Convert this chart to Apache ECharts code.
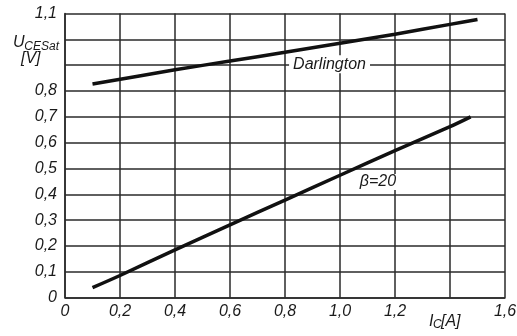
<!DOCTYPE html>
<html>
<head>
<meta charset="utf-8">
<script src="https://cdn.jsdelivr.net/npm/echarts@6/dist/echarts.min.js"></script>
<style>html,body{margin:0;padding:0;background:#fff}#c{width:517px;height:336px}</style>
</head>
<body>
<div id="c"></div>
<script>
var xTicks = [0, 0.2, 0.4, 0.6, 0.8, 1.0, 1.2, 1.4, 1.6];
var yTicks = [0, 0.1, 0.2, 0.3, 0.4, 0.5, 0.6, 0.7, 0.8, 0.9, 1.0, 1.1];
var darlingtonIc = [0.1, 0.4, 0.6, 0.8, 1.0, 1.2, 1.4, 1.5];
var darlingtonU  = [0.827, 0.882, 0.916, 0.95, 0.985, 1.02, 1.058, 1.077];
var beta20Ic = [0.1, 0.2, 0.4, 0.6, 0.8, 1.0, 1.2, 1.4, 1.475];
var beta20U  = [0.039, 0.086, 0.185, 0.282, 0.378, 0.474, 0.569, 0.662, 0.70];
var hiddenX = [1.4];
var hiddenY = [0.9, 1.0];

function fmt(v) {
  if (Math.abs(v) < 1e-9) return '0';
  return v.toFixed(1).replace('.', ',');
}
function isIn(v, arr) { return arr.some(function (a) { return Math.abs(a - v) < 1e-6; }); }
function zip(a, b) { return a.map(function (x, i) { return [x, b[i]]; }); }

var FONT = 'Liberation Sans, Arial, sans-serif';
var TXT = '#1a1a1a';
var gridLine = { show: true, lineStyle: { color: '#2a2a2a', width: 1.5 } };
var chart = echarts.init(document.getElementById('c'));
chart.setOption({
  animation: false,
  backgroundColor: '#fff',
  grid: { left: 65, right: 12, top: 13.5, bottom: 38.3, containLabel: false, outerBoundsMode: 'none' },
  xAxis: {
    type: 'value', min: xTicks[0], max: xTicks[xTicks.length - 1], interval: 0.2,
    axisLine: { show: true, lineStyle: { color: '#2a2a2a', width: 1.5 } },
    axisTick: { show: false },
    splitLine: gridLine,
    axisLabel: {
      margin: 6, fontSize: 16, fontStyle: 'italic', color: TXT, fontFamily: FONT,
      formatter: function (v) { return isIn(v, hiddenX) ? '' : fmt(v); }
    }
  },
  yAxis: {
    type: 'value', min: yTicks[0], max: yTicks[yTicks.length - 1], interval: 0.1,
    axisLine: { show: true, lineStyle: { color: '#2a2a2a', width: 1.5 } },
    axisTick: { show: false },
    splitLine: gridLine,
    axisLabel: {
      margin: 8, fontSize: 16, fontStyle: 'italic', color: TXT, fontFamily: FONT,
      formatter: function (v) { return isIn(v, hiddenY) ? '' : fmt(v); }
    }
  },
  series: [
    {
      name: 'Darlington', type: 'line', data: zip(darlingtonIc, darlingtonU),
      showSymbol: false, symbol: 'none', smooth: 0.3,
      lineStyle: { color: '#111', width: 3.5 },
      markPoint: {
        symbol: 'rect', symbolSize: 0,
        data: [{ coord: [0.962, 0.904], value: 'Darlington' }],
        label: {
          show: true, position: 'inside', formatter: 'Darlington', color: TXT,
          fontSize: 16, fontStyle: 'italic', fontFamily: FONT,
          backgroundColor: '#fff', padding: [1, 4, 1, 4]
        }
      }
    },
    {
      name: 'beta20', type: 'line', data: zip(beta20Ic, beta20U),
      showSymbol: false, symbol: 'none', smooth: 0.3,
      lineStyle: { color: '#111', width: 3.5 },
      markPoint: {
        symbol: 'rect', symbolSize: 0,
        data: [{ coord: [1.138, 0.448], value: 'b' }],
        label: {
          show: true, position: 'inside', formatter: 'β=20', color: TXT,
          fontSize: 16, fontStyle: 'italic', fontFamily: FONT,
          backgroundColor: '#fff', padding: [0, 1, 0, 1]
        }
      }
    }
  ],
  graphic: [
    { type: 'text', x: 13, y: 43, style: { text: 'U', fontSize: 16, fontStyle: 'italic', fontFamily: FONT, fill: TXT, textAlign: 'left', textVerticalAlign: 'middle' } },
    { type: 'text', x: 59, y: 47, style: { text: 'CESat', fontSize: 12, fontStyle: 'italic', fontFamily: FONT, fill: TXT, textAlign: 'right', textVerticalAlign: 'middle' } },
    { type: 'text', x: 21, y: 59, style: { text: '[V]', fontSize: 16, fontStyle: 'italic', fontFamily: FONT, fill: TXT, textAlign: 'left', textVerticalAlign: 'middle' } },
    { type: 'text', x: 429, y: 322, style: { text: 'I', fontSize: 16, fontStyle: 'italic', fontFamily: FONT, fill: TXT, textAlign: 'left', textVerticalAlign: 'middle' } },
    { type: 'text', x: 433, y: 325, style: { text: 'C', fontSize: 12, fontStyle: 'italic', fontFamily: FONT, fill: TXT, textAlign: 'left', textVerticalAlign: 'middle' } },
    { type: 'text', x: 441, y: 322, style: { text: '[A]', fontSize: 16, fontStyle: 'italic', fontFamily: FONT, fill: TXT, textAlign: 'left', textVerticalAlign: 'middle' } }
  ]
});
</script>
</body>
</html>
